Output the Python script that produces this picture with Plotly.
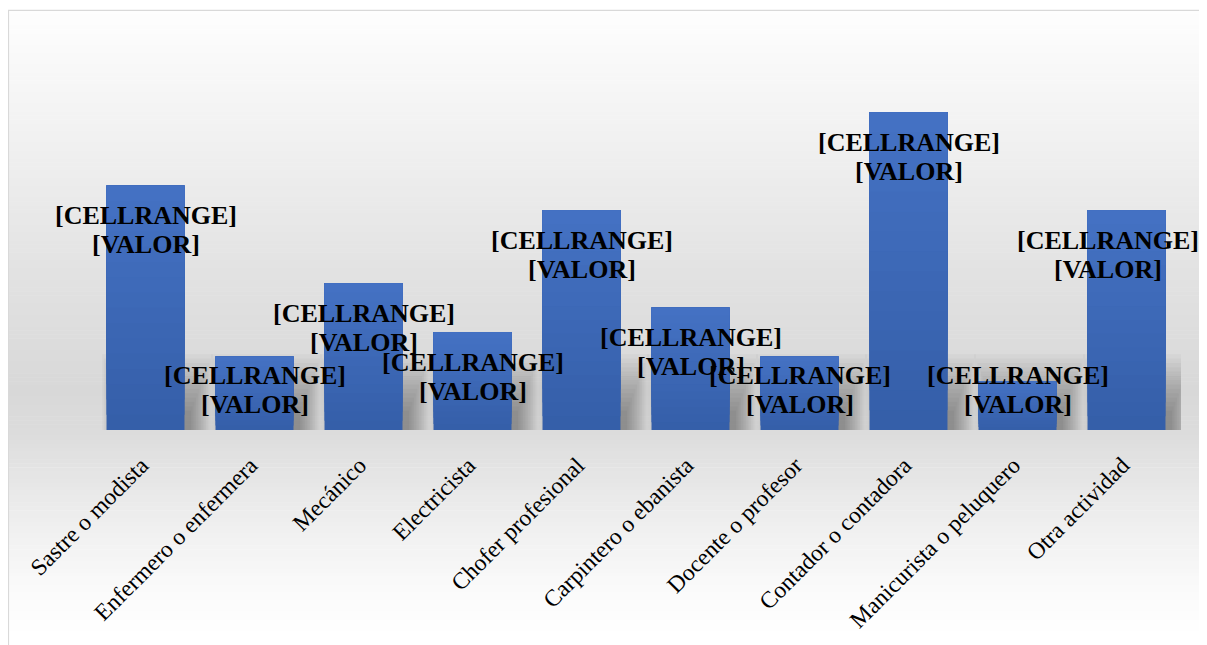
import plotly.graph_objects as go

categories = ["Sastre o modista", "Enfermero o enfermera", "Mecánico", "Electricista",
              "Chofer profesional", "Carpintero o ebanista", "Docente o profesor",
              "Contador o contadora", "Manicurista o peluquero", "Otra actividad"]
values = [10, 3, 6, 4, 9, 5, 3, 13, 2, 9]
label_line1 = "[CELLRANGE]"
label_line2 = "[VALOR]"

# figure is drawn at an 8px page offset; coordinates below are figure pixels
W, H = 1199, 637
L, R, T, B = 83, 26, 80, 207
YMAX = 14
MIN_LABEL_Y = 3.44
LABEL_HALF_W = 93
BARGAP = 0.285
BAR_W = 1 - BARGAP

def px_to_paper_x(px):
    return (px - L) / (W - L - R)

def px_to_paper_y(py):
    return (H - B - py) / (H - T - B)

def hex_to_rgb(h):
    h = h.lstrip('#')
    return tuple(int(h[i:i + 2], 16) for i in (0, 2, 4))

def lerp(c1, c2, t):
    a, b = hex_to_rgb(c1), hex_to_rgb(c2)
    return "rgb(%d,%d,%d)" % tuple(round(a[i] + (b[i] - a[i]) * t) for i in range(3))

fig = go.Figure()

# soft shadow behind each bar (stacked translucent layers to fake a blur)
K = 14
sh_shift = 0.11
for j in range(K):
    f = j / (K - 1)
    w = BAR_W + 0.30 * (1 - f) - 0.10 * f
    h = 3.1 - 2.3 * f
    fig.add_trace(go.Bar(
        x=categories,
        y=[min(h, v + 1.1) for v in values],
        width=w, offset=sh_shift - w / 2,
        marker=dict(color="rgba(0,0,0,0.028)", line=dict(width=0)),
        showlegend=False, hoverinfo="skip",
    ))

# bars with vertical gradient: overlaid layers each reaching the bar top
N = 16
top_c, bot_c = "#4472c4", "#355ea8"
for k in range(N):
    frac0 = k / N
    fig.add_trace(go.Bar(
        x=categories,
        y=[v * (1 - frac0) for v in values],
        base=[v * frac0 for v in values],
        width=BAR_W,
        marker=dict(color=lerp(bot_c, top_c, (k + 0.5) / N), line=dict(width=0)),
        showlegend=False, hoverinfo="skip",
    ))

# background gradient (whole chart area)
stops = [(-10, "#ffffff"), (30, "#fbfbfb"), (140, "#f0f0f0"), (270, "#e2e2e2"),
         (390, "#d8d8d8"), (432, "#dcdcdc"), (510, "#ececec"), (590, "#fafafa"), (640, "#ffffff")]
shapes = []
step = 4
for py in range(0, H, step):
    yc = py + step / 2
    col = stops[-1][1]
    for i in range(len(stops) - 1):
        if stops[i][0] <= yc <= stops[i + 1][0]:
            t = (yc - stops[i][0]) / (stops[i + 1][0] - stops[i][0])
            col = lerp(stops[i][1], stops[i + 1][1], t)
            break
    shapes.append(dict(type="rect", xref="paper", yref="paper", layer="below",
                       x0=px_to_paper_x(1), x1=px_to_paper_x(1197),
                       y0=px_to_paper_y(py + step + 0.5), y1=px_to_paper_y(py),
                       fillcolor=col, line=dict(width=0)))
# frame
shapes.append(dict(type="rect", xref="paper", yref="paper", layer="above",
                   x0=px_to_paper_x(0.5), x1=px_to_paper_x(1197.5),
                   y0=px_to_paper_y(660), y1=px_to_paper_y(0.5),
                   line=dict(color="#d9d9d9", width=1.2), fillcolor="rgba(0,0,0,0)"))

annotations = []
lab_font = dict(family="Liberation Serif", size=26, color="#000000")
band = (W - L - R) / len(categories)
for i, (c, v) in enumerate(zip(categories, values)):
    yl = max(v, MIN_LABEL_Y)
    center = L + (i + 0.5) * band
    xs = min(0, (W - 6) - (center + LABEL_HALF_W))
    annotations.append(dict(x=c, y=yl, xref="x", yref="y", text="<b>%s</b>" % label_line1,
                            showarrow=False, yanchor="middle", yshift=-30, xshift=xs, font=lab_font))
    annotations.append(dict(x=c, y=yl, xref="x", yref="y", text="<b>%s</b>" % label_line2,
                            showarrow=False, yanchor="middle", yshift=-59, xshift=xs, font=lab_font))

fig.update_layout(
    width=W, height=H,
    margin=dict(l=L, r=R, t=T, b=B),
    paper_bgcolor="#ffffff", plot_bgcolor="rgba(0,0,0,0)",
    barmode="overlay", bargap=BARGAP,
    shapes=shapes, annotations=annotations,
    font=dict(family="Liberation Serif", color="#000000"),
)
fig.update_xaxes(showgrid=False, showline=False, zeroline=False, ticks="",
                 tickangle=-45, tickfont=dict(family="Liberation Serif", size=23.5, color="#000000"),
                 ticklabelstandoff=16, ticklabelshift=-4,
                 range=[-0.5, 9.5])
fig.update_yaxes(showgrid=False, showline=False, zeroline=False, showticklabels=False,
                 range=[0, YMAX])

fig.write_html("out.html")
